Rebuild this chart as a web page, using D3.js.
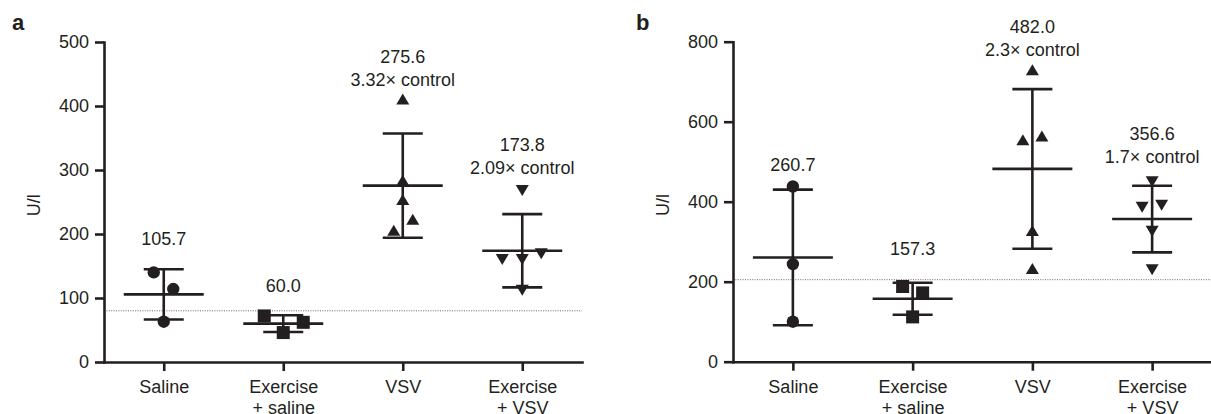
<!DOCTYPE html>
<meta charset="utf-8">
<style>
 body { margin: 0; background: #fff; }
 svg { display: block; }
 text { font-family: "Liberation Sans", Arial, sans-serif; fill: #231f20; }
 .axis path, .axis line { stroke: #231f20; stroke-width: 2.6; fill: none; }
 .axis text { font-size: 18px; }
 .panel-letter { font-size: 22px; font-weight: bold; }
</style>
<body>
<svg width="1211" height="414"></svg>
<script src="https://d3js.org/d3.v7.min.js"></script>
<script>

 // groups on the x axis, and marker shape for each
 var categories = ["Saline", "Exercise\n+ saline", "VSV", "Exercise\n+ VSV"];
 var shapes = ["circle", "square", "up", "down"];

 // panel a
 var aValues = [[140, 114, 63], [72, 62, 46], [411, 284, 254, 223, 206], [268, 160, 160, 169, 112]];
 var aJitter = [[-10, 9.5, 0], [-19, 20, 0], [0, 0, 0, 10, -9], [0, -20, 0, 19, 0]];
 var aLabels = [["105.7"], ["60.0"], ["275.6", "3.32\u00d7 control"], ["173.8", "2.09\u00d7 control"]];
 var aLabelAt = [192, 120, 441, 303];
 var aTicks = [0, 100, 200, 300, 400, 500];
 var aControl = 80;

 // panel b
 var bValues = [[438, 244, 100], [188, 172, 112], [730, 555, 564, 328, 233], [450, 386, 391, 326, 230]];
 var bJitter = [[0, 0, 0], [-10, 10, 0], [0, -9.5, 9.5, 0, 0], [0, -10, 9.5, 0, 0]];
 var bLabels = [["260.7"], ["157.3"], ["482.0", "2.3\u00d7 control"], ["356.6", "1.7\u00d7 control"]];
 var bLabelAt = [492, 283, 779, 512];
 var bTicks = [0, 200, 400, 600, 800];
 var bControl = 205;

 var svg = d3.select("svg");
 var ink = "#231f20";

 function marker(sel, shape) {
     if (shape == "circle") {
         sel.append("circle").attr("r", 6.2);
     } else if (shape == "square") {
         sel.append("rect").attr("x", -6.5).attr("y", -6.5).attr("width", 13).attr("height", 13);
     } else if (shape == "up") {
         sel.append("path").attr("d", "M0,-5.5L6.5,5.5L-6.5,5.5Z");
     } else {
         sel.append("path").attr("d", "M0,5.5L6.5,-5.5L-6.5,-5.5Z");
     }
 }

 function drawPanel(opt) {
     var g = svg.append("g");

     var x = d3.scalePoint().domain(categories).range(opt.xRange).padding(0.5);
     var y = d3.scaleLinear().domain([0, d3.max(opt.ticks)]).range(opt.yRange);

     // dotted control level
     g.append("line")
      .attr("x1", opt.xRange[0]).attr("x2", opt.xRange[1])
      .attr("y1", y(opt.control)).attr("y2", y(opt.control))
      .style("stroke", "#555").style("stroke-width", 0.9)
      .style("stroke-dasharray", "1,1.4");

     g.append("g")
      .attr("class", "axis")
      .attr("transform", "translate(" + opt.xRange[0] + ",0)")
      .call(d3.axisLeft(y).tickValues(opt.ticks).tickSize(9).tickSizeOuter(0).tickPadding(6));

     var xAxis = g.append("g")
		  .attr("class", "axis")
		  .attr("transform", "translate(0," + opt.yRange[0] + ")")
		  .call(d3.axisBottom(x).tickSize(9).tickSizeOuter(0));
     xAxis.selectAll(".tick text").remove();
     xAxis.selectAll(".tick").each(function(d) {
	 var t = d3.select(this).append("text")
		   .attr("text-anchor", "middle")
		   .attr("y", 31);
	 d.split("\n").forEach(function(line, i) {
	     t.append("tspan").attr("x", 0).attr("dy", i == 0 ? 0 : 21).text(line);
	 });
     });
     g.selectAll(".axis path.domain").style("stroke-linecap", "square");

     g.append("text")
      .attr("transform", "translate(" + (opt.xRange[0] - 70) + "," + y(d3.max(opt.ticks) * 0.49) + ") rotate(-90)")
      .attr("text-anchor", "middle")
      .attr("dy", "0.35em")
      .style("font-size", "18px")
      .text("U/l");

     g.append("text")
      .attr("class", "panel-letter")
      .attr("x", opt.letterX).attr("y", 30)
      .text(opt.letter);

     categories.forEach(function(c, i) {
	 var vals = opt.values[i];
	 var cx = x(c);
	 var grp = g.append("g");

	 // points
	 vals.forEach(function(v, j) {
	     var p = grp.append("g")
			.attr("transform", "translate(" + (cx + opt.jitter[i][j]) + "," + y(v) + ")")
			.style("fill", ink);
	     marker(p, shapes[i]);
	 });

	 // mean and SD bars
	 var m = d3.mean(vals), sd = d3.deviation(vals);
	 var segs = [
	     [cx, y(m - sd), cx, y(m + sd)],
	     [cx - 40, y(m), cx + 40, y(m)],
	     [cx - 20, y(m + sd), cx + 20, y(m + sd)],
	     [cx - 20, y(m - sd), cx + 20, y(m - sd)]
	 ];
	 grp.selectAll(null).data(segs).enter().append("line")
	    .attr("x1", function(s) { return s[0]; })
	    .attr("y1", function(s) { return s[1]; })
	    .attr("x2", function(s) { return s[2]; })
	    .attr("y2", function(s) { return s[3]; })
	    .style("stroke", ink)
	    .style("stroke-width", 2.6);

	 // mean labels
	 var lines = opt.labels[i];
	 lines.forEach(function(txt, k) {
	     g.append("text")
	      .attr("x", cx)
	      .attr("y", y(opt.labelAt[i]) - (lines.length - 1 - k) * 23)
	      .attr("dy", "0.35em")
	      .attr("text-anchor", "middle")
	      .style("font-size", "18px")
	      .text(txt);
	 });
     });
 }

 drawPanel({letter: "a", letterX: 12, xRange: [104, 582], yRange: [362, 42],
	    ticks: aTicks, values: aValues, jitter: aJitter, labels: aLabels,
	    labelAt: aLabelAt, control: aControl});

 drawPanel({letter: "b", letterX: 636, xRange: [733, 1212], yRange: [361.7, 41.7],
	    ticks: bTicks, values: bValues, jitter: bJitter, labels: bLabels,
	    labelAt: bLabelAt, control: bControl});

</script>
</body>
